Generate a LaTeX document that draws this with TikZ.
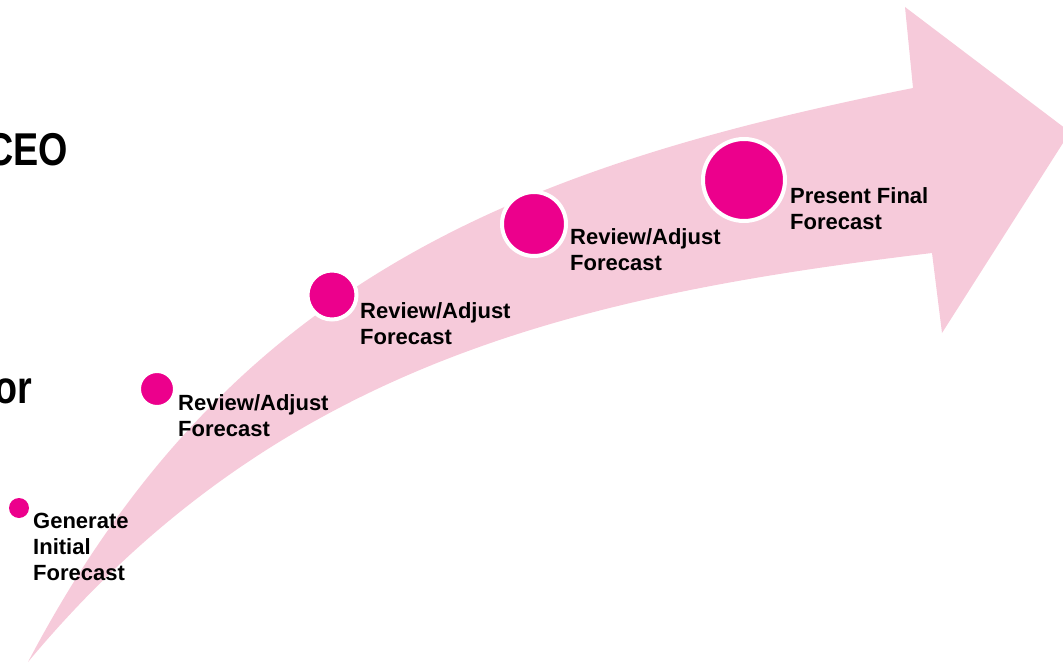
\documentclass[tikz,border=0pt]{standalone}
\usepackage{fontspec}
\setmainfont{Liberation Sans}
\newfontfamily\headfont{Liberation Sans Bold}[FakeStretch=0.82]
\definecolor{ribbon}{RGB}{246,202,218}
\definecolor{dotmag}{RGB}{236,0,140}
\begin{document}
\begin{tikzpicture}[x=1pt,y=-1pt,
  dot/.style={circle,fill=dotmag,draw=white,line width=4pt,inner sep=0pt},
  steplabel/.style={anchor=north west,inner sep=0pt,align=left,
    font=\fontsize{22}{26}\selectfont\bfseries},
  bigword/.style={anchor=base east,inner sep=0pt,
    font=\fontsize{46}{52}\selectfont\headfont}]
\useasboundingbox (0,0) rectangle (1063,663);
\clip (0,0) rectangle (1063,663);

% curved ribbon arrow
\coordinate (tail) at (28,662);
\coordinate (neckTop) at (913,88);
\coordinate (headTop) at (905,7);
\coordinate (tip) at (1070,132);
\coordinate (headBot) at (942,333);
\coordinate (neckBot) at (932,253);
\fill[ribbon] (tail) .. controls (228,282) and (513,168) .. (neckTop)
  -- (headTop) -- (tip) -- (headBot) -- (neckBot)
  .. controls (582,295) and (278,362) .. (tail) -- cycle;

% partly hidden headings on the left
\node[bigword] (ceo) at (68,166) {CEO};
\node[bigword] (orword) at (32,403) {or};

% milestones along the arrow
\node[dot,minimum size=20pt,line width=0pt,draw=none] (d1) at (19,508) {};
\node[dot,minimum size=34pt,line width=2pt] (d2) at (157,389) {};
\node[dot,minimum size=49pt] (d3) at (332,295) {};
\node[dot,minimum size=64pt] (d4) at (534,224) {};
\node[dot,minimum size=82pt] (d5) at (744,180) {};

\node[steplabel] (l1) at (33,513) {Generate\\Initial\\Forecast};
\node[steplabel] (l2) at (178,394) {Review/Adjust\\Forecast};
\node[steplabel] (l3) at (360,302) {Review/Adjust\\Forecast};
\node[steplabel] (l4) at (570,228) {Review/Adjust\\Forecast};
\node[steplabel] (l5) at (790,187) {Present Final\\Forecast};
\end{tikzpicture}
\end{document}
